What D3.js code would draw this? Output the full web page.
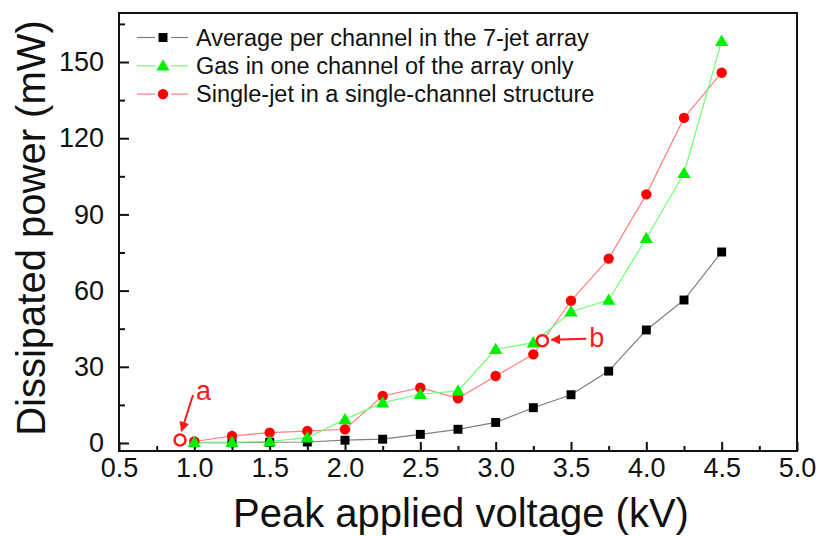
<!DOCTYPE html>
<html>
<head>
<meta charset="utf-8">
<script src="https://cdn.jsdelivr.net/npm/d3@7"></script>
<style>
  body { margin: 0; background: #fff; }
  text { font-family: "Liberation Sans", Arial, sans-serif; }
</style>
</head>
<body>
<div id="chart"></div>
<script>
// Data
var voltage = [1.0, 1.25, 1.5, 1.75, 2.0, 2.25, 2.5, 2.75, 3.0, 3.25, 3.5, 3.75, 4.0, 4.25, 4.5];
var avgArray = [0.1, 0.1, 0.3, 0.4, 1.1, 1.5, 3.4, 5.4, 8.1, 13.9, 19.0, 28.3, 44.5, 56.3, 75.2];
var gasOneChannel = [0.3, 0.3, 0.6, 2.1, 9.3, 15.9, 19.2, 20.5, 36.9, 39.5, 51.7, 56.3, 80.6, 106.2, 158.2];
var singleJet = [0.6, 2.8, 4.1, 4.7, 5.4, 18.5, 21.8, 17.6, 26.4, 34.9, 56.0, 72.6, 97.9, 128.0, 145.8];

var seriesNames = [
    "Average per channel in the 7-jet array",
    "Gas in one channel of the array only",
    "Single-jet in a single-channel structure"
];

var xTicks = [0.5, 1.0, 1.5, 2.0, 2.5, 3.0, 3.5, 4.0, 4.5, 5.0];
var xMinor = [0.75, 1.25, 1.75, 2.25, 2.75, 3.25, 3.75, 4.25, 4.75];
var yTicks = [0, 30, 60, 90, 120, 150];
var yMinor = [15, 45, 75, 105, 135, 165];

// marked points "a" and "b"
var marks = [
    { label: "a", v: 0.905, p: 1.2 },
    { label: "b", v: 3.31, p: 40.3 }
];

var width = 819, height = 536;
var plotLeft = 119, plotRight = 797, plotTop = 13, plotBottom = 451;

var svg = d3.select("#chart").append("svg")
    .attr("width", width)
    .attr("height", height);

var x = d3.scaleLinear().domain([0.5, 5.0]).range([plotLeft, plotRight]);
var y = d3.scaleLinear().domain([-3.15, 169.3]).range([plotBottom, plotTop]);

// axes, ticks pointing inward
var xAxis = svg.append("g").attr("transform", "translate(0," + plotBottom + ")")
    .call(d3.axisBottom(x).tickValues(xTicks).tickSize(-9).tickPadding(18)
        .tickFormat(d3.format(".1f")));
svg.append("g").attr("transform", "translate(0," + plotBottom + ")")
    .call(d3.axisBottom(x).tickValues(xMinor).tickSize(-5).tickFormat(""));
var yAxis = svg.append("g").attr("transform", "translate(" + plotLeft + ",0)")
    .call(d3.axisLeft(y).tickValues(yTicks).tickSize(-10).tickPadding(17));
svg.append("g").attr("transform", "translate(" + plotLeft + ",0)")
    .call(d3.axisLeft(y).tickValues(yMinor).tickSize(-6).tickFormat(""));

svg.selectAll(".domain").remove();
svg.selectAll(".tick line").attr("stroke", "#111").attr("stroke-width", 2);
svg.selectAll(".tick text").attr("fill", "#111").style("font-size", "27px")
    .style("font-family", "'Liberation Sans', Arial, sans-serif");
xAxis.selectAll(".tick text").attr("dy", "0.71em").attr("y", 7);
yAxis.selectAll(".tick text").attr("x", -15);

// frame
svg.append("rect")
    .attr("x", plotLeft).attr("y", plotTop)
    .attr("width", plotRight - plotLeft).attr("height", plotBottom - plotTop)
    .attr("fill", "none").attr("stroke", "#111").attr("stroke-width", 2);

// axis titles
svg.append("text")
    .attr("x", (plotLeft + plotRight) / 2 + 3).attr("y", 527)
    .attr("text-anchor", "middle")
    .style("font-size", "40px").attr("fill", "#111")
    .text("Peak applied voltage (kV)");
svg.append("text")
    .attr("transform", "translate(45," + 228 + ") rotate(-90)")
    .attr("text-anchor", "middle")
    .style("font-size", "40px").attr("fill", "#111")
    .text("Dissipated power (mW)");

var line = d3.line()
    .x(function (d) { return x(d[0]); })
    .y(function (d) { return y(d[1]); });

function pairs(vals) {
    return voltage.map(function (v, i) { return [v, vals[i]]; });
}

var series = [
    { name: seriesNames[0], values: avgArray, line: "#808080", fill: "#000", shape: d3.symbolSquare, size: 80 },
    { name: seriesNames[2], values: singleJet, line: "#ff8080", fill: "#ff0000", shape: d3.symbolCircle, size: 85 },
    { name: seriesNames[1], values: gasOneChannel, line: "#70ff70", fill: "#00ee00", shape: d3.symbolTriangle, size: 75 }
];

series.forEach(function (s) {
    svg.append("path")
        .datum(pairs(s.values))
        .attr("d", line)
        .attr("fill", "none")
        .attr("stroke", s.line)
        .attr("stroke-width", 1.2);
});
series.forEach(function (s) {
    svg.selectAll(null)
        .data(pairs(s.values))
        .enter()
        .append("path")
        .attr("d", d3.symbol().type(s.shape).size(s.size))
        .attr("transform", function (d) {
            var dy = s.shape === d3.symbolTriangle ? 1 : 0;
            return "translate(" + x(d[0]) + "," + (y(d[1]) + dy) + ")";
        })
        .attr("fill", s.fill);
});

// legend
var legendOrder = [series[0], series[2], series[1]];
var legend = svg.append("g");
legendOrder.forEach(function (s, i) {
    var ly = 37.5 + i * 28.3;
    legend.append("line").attr("x1", 137).attr("x2", 155).attr("y1", ly).attr("y2", ly)
        .attr("stroke", s.line).attr("stroke-width", 1.2);
    legend.append("line").attr("x1", 171).attr("x2", 188).attr("y1", ly).attr("y2", ly)
        .attr("stroke", s.line).attr("stroke-width", 1.2);
    legend.append("path")
        .attr("d", d3.symbol().type(s.shape).size(s.size))
        .attr("transform", "translate(163," + (ly + (s.shape === d3.symbolTriangle ? 1 : 0)) + ")")
        .attr("fill", s.fill);
    legend.append("text")
        .attr("x", 196).attr("y", ly + 8)
        .style("font-size", "23.5px").attr("fill", "#111")
        .text(s.name);
});

// annotations
svg.append("defs").append("marker")
    .attr("id", "arrow")
    .attr("viewBox", "0 0 10 10")
    .attr("refX", 9).attr("refY", 5)
    .attr("markerWidth", 5).attr("markerHeight", 5)
    .attr("orient", "auto")
    .append("path").attr("d", "M0,0 L10,5 L0,10 z").attr("fill", "#ff1a1a");

var ma = marks[0], mb = marks[1];
svg.append("line")
    .attr("x1", x(ma.v) + 13).attr("y1", y(ma.p) - 45)
    .attr("x2", x(ma.v) + 1.5).attr("y2", y(ma.p) - 9)
    .attr("stroke", "#ff1a1a").attr("stroke-width", 2)
    .attr("marker-end", "url(#arrow)");
svg.append("text")
    .attr("x", x(ma.v) + 16).attr("y", y(ma.p) - 40)
    .style("font-size", "27px").attr("fill", "#ff1a1a")
    .text(ma.label);

svg.append("line")
    .attr("x1", x(mb.v) + 44).attr("y1", y(mb.p) - 2)
    .attr("x2", x(mb.v) + 9).attr("y2", y(mb.p) - 1)
    .attr("stroke", "#ff1a1a").attr("stroke-width", 2)
    .attr("marker-end", "url(#arrow)");
svg.append("text")
    .attr("x", x(mb.v) + 47).attr("y", y(mb.p) + 6)
    .style("font-size", "27px").attr("fill", "#ff1a1a")
    .text(mb.label);

svg.selectAll(null)
    .data(marks)
    .enter()
    .append("circle")
    .attr("cx", function (d) { return x(d.v); })
    .attr("cy", function (d) { return y(d.p); })
    .attr("r", 5.5)
    .attr("fill", "#fff")
    .attr("stroke", "#ff1a1a")
    .attr("stroke-width", 2.5);
</script>
</body>
</html>
